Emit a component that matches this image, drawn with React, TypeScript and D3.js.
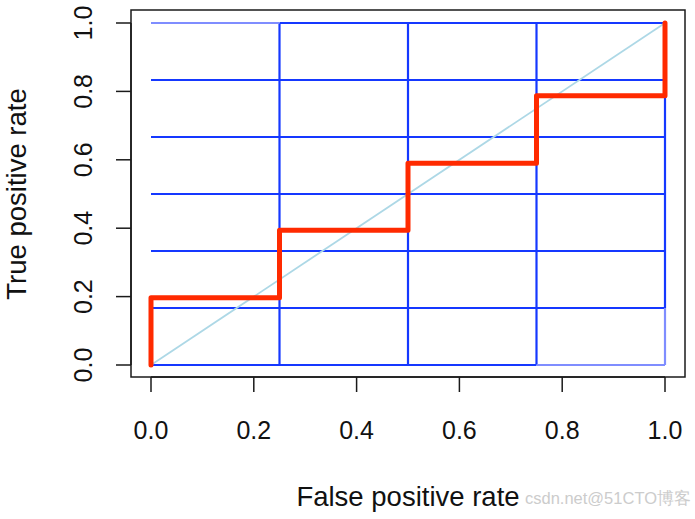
import React from "react";
import * as d3 from "d3";

const fpr = [0, 0, 0.25, 0.25, 0.5, 0.5, 0.75, 0.75, 1, 1];
const tpr = [0, 0.197, 0.197, 0.394, 0.394, 0.59, 0.59, 0.787, 0.787, 1];
const xTicks = [0, 0.2, 0.4, 0.6, 0.8, 1.0];
const yTicks = [0, 0.2, 0.4, 0.6, 0.8, 1.0];
const gridX = [0.25, 0.5, 0.75, 1];
const gridY = [0, 1 / 6, 2 / 6, 3 / 6, 4 / 6, 5 / 6, 1];
const xLabel = "False positive rate";
const yLabel = "True positive rate";

export default function App() {
  const W = 695, H = 519;
  const x = d3.scaleLinear().domain([0, 1]).range([151, 665]);
  const y = d3.scaleLinear().domain([0, 1]).range([365, 23]);
  const box = { x0: 131, x1: 685, y0: 10, y1: 377 };
  const dark = "#1538ff";
  const light = "#7f8dff";
  const line = d3.line<number>().x((_, i) => x(fpr[i])).y((d) => y(d));
  const font = "Liberation Sans, Arial, sans-serif";

  const lightSegs = [
    { x1: 0, y1: 1, x2: 0.25, y2: 1 },
    { x1: 0.75, y1: 0, x2: 1, y2: 0 },
    { x1: 1, y1: 0, x2: 1, y2: 1 / 6 },
  ];

  return (
    <svg width={W} height={H} style={{ position: "absolute", left: 0, top: 0, background: "#fff" }}>
      {gridY.map((g, i) => {
        let xs = 0, xe = 1;
        if (g === 1) xs = 0.25;
        if (g === 0) xe = 0.75;
        return (
          <line key={"h" + i} x1={x(xs)} x2={x(xe)} y1={y(g)} y2={y(g)} stroke={dark} strokeWidth={2.2} />
        );
      })}
      {gridX.map((g, i) => (
        <line key={"v" + i} x1={x(g)} x2={x(g)} y1={y(g === 1 ? 1 / 6 : 0)} y2={y(1)} stroke={dark} strokeWidth={2.2} />
      ))}
      {lightSegs.map((s, i) => (
        <line key={"l" + i} x1={x(s.x1)} x2={x(s.x2)} y1={y(s.y1)} y2={y(s.y2)} stroke={light} strokeWidth={2.2} />
      ))}
      <line x1={x(0)} y1={y(0)} x2={x(1)} y2={y(1)} stroke="#add8e6" strokeWidth={1.8} />
      <path d={line(tpr) || ""} fill="none" stroke="#ff2a00" strokeWidth={5} strokeLinejoin="round" strokeLinecap="round" />
      <rect x={box.x0} y={box.y0} width={box.x1 - box.x0} height={box.y1 - box.y0} fill="none" stroke="#1a1a1a" strokeWidth={1.5} />
      <line x1={x(0)} x2={x(1)} y1={box.y1} y2={box.y1} stroke="#1a1a1a" strokeWidth={1.5} />
      {xTicks.map((t, i) => (
        <g key={"xt" + i}>
          <line x1={x(t)} x2={x(t)} y1={box.y1} y2={box.y1 + 15} stroke="#1a1a1a" strokeWidth={1.5} />
          <text x={x(t)} y={439} textAnchor="middle" fontFamily={font} fontSize={25} fill="#111">
            {t.toFixed(1)}
          </text>
        </g>
      ))}
      <line x1={box.x0} x2={box.x0} y1={y(0)} y2={y(1)} stroke="#1a1a1a" strokeWidth={1.5} />
      {yTicks.map((t, i) => (
        <g key={"yt" + i}>
          <line x1={box.x0 - 15} x2={box.x0} y1={y(t)} y2={y(t)} stroke="#1a1a1a" strokeWidth={1.5} />
          <text transform={`translate(92,${y(t)}) rotate(-90)`} textAnchor="middle" fontFamily={font} fontSize={25} fill="#111">
            {t.toFixed(1)}
          </text>
        </g>
      ))}
      <text x={408} y={506} textAnchor="middle" fontFamily={font} fontSize={27.5} fill="#111">{xLabel}</text>
      <text transform={`translate(26,${y(0.5)}) rotate(-90)`} textAnchor="middle" fontFamily={font} fontSize={27.5} fill="#111">{yLabel}</text>
      <text x={691} y={504} textAnchor="end" fontFamily={font} fontSize={16.5} fill="#cccccc">
        csdn.net@51CTO博客
      </text>
    </svg>
  );
}
